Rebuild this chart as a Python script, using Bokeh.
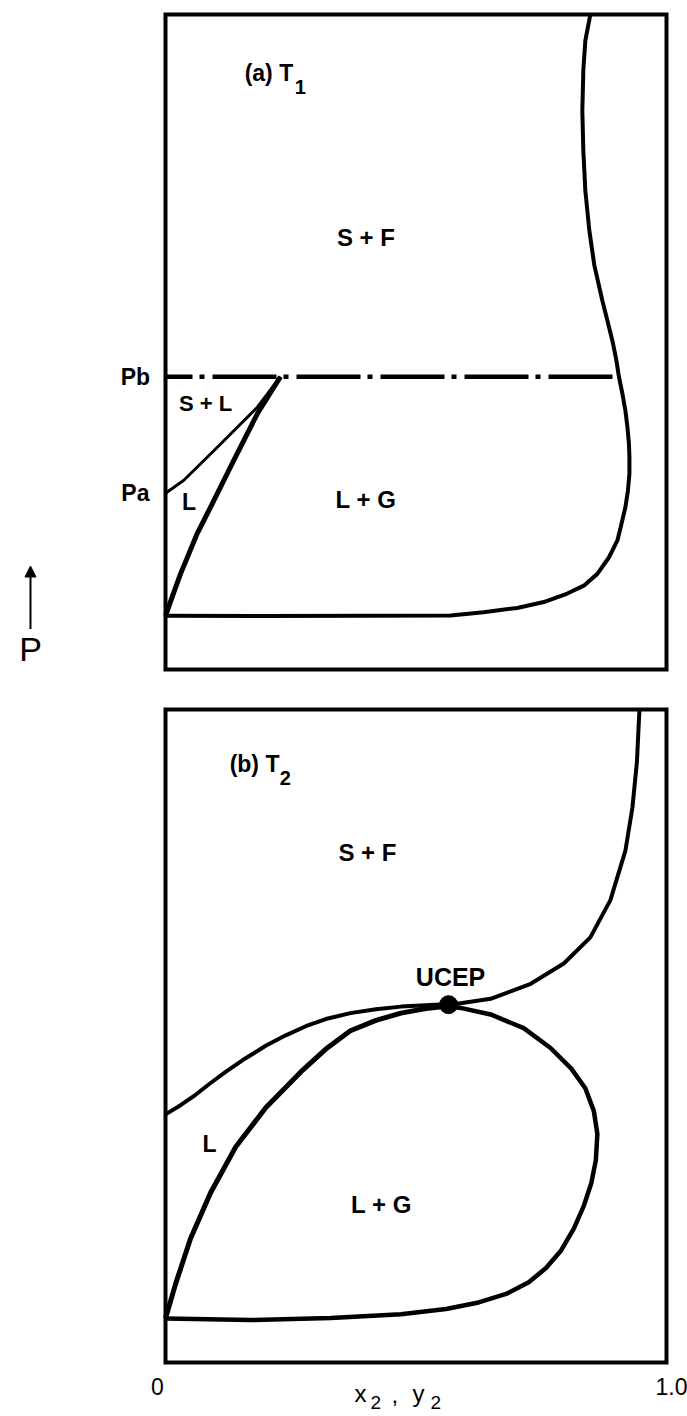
from bokeh.plotting import figure
from bokeh.layouts import column
from bokeh.models import Label, Arrow, NormalHead, Range1d
from bokeh.embed import file_html
from bokeh.resources import INLINE

FONT = "Liberation Sans"
INK = "black"

# composition axis and pressure scale of each diagram box
X_LO, X_HI = 0.0, 1.0
P_LO, P_HI = 0.0, 100.0

# ---------------- panel (a): isotherm T1 ----------------
# fluid-phase boundary, from the top of the box down to x2 = 0
a_fluid_x = [0.848, 0.838, 0.834, 0.832, 0.834, 0.838, 0.846, 0.856, 0.872, 0.882,
             0.892, 0.900, 0.905, 0.912, 0.918, 0.922, 0.925, 0.926, 0.926, 0.923,
             0.918, 0.910, 0.902, 0.885, 0.862, 0.835, 0.802, 0.755, 0.702, 0.635,
             0.569, 0.400, 0.200, 0.0]
a_fluid_p = [100, 96.0, 91.5, 85.3, 79.2, 73.1, 67.0, 61.7, 56.3, 53.3,
             50.2, 47.2, 44.7, 42.1, 39.5, 37.0, 34.5, 32.4, 29.9, 27.3,
             24.8, 22.2, 19.7, 17.1, 14.6, 12.8, 11.6, 10.3, 9.4, 8.75,
             8.24, 8.2, 8.15, 8.2]
# liquid boundary of the L + G region
a_liq_x = [0.0, 0.013, 0.030, 0.063, 0.090, 0.136, 0.183, 0.2295]
a_liq_p = [8.2, 11.0, 14.6, 20.7, 24.8, 31.9, 39.0, 44.7]
# solid-liquid boundary leaving the axis at Pa
a_sl_x = [0.0, 0.0366, 0.103, 0.183, 0.2295]
a_sl_p = [26.9, 28.9, 33.9, 40.0, 44.7]
# three-phase pressure Pb
a_pb_x = [0.0, 0.905]
a_pb_p = [44.7, 44.7]
a_pa = 26.9
a_pb = 44.7

# ---------------- panel (b): isotherm T2 ----------------
b_upper_x = [0.0, 0.03, 0.06, 0.09, 0.12, 0.16, 0.20, 0.24, 0.28, 0.32,
             0.369, 0.42, 0.47, 0.52, 0.565, 0.589, 0.649, 0.729, 0.795, 0.848,
             0.888, 0.918, 0.932, 0.941, 0.946]
b_upper_p = [38, 39.4, 41, 42.8, 44.5, 46.6, 48.5, 50.1, 51.5, 52.6,
             53.5, 54.1, 54.5, 54.7, 54.9, 55.0, 55.7, 58.0, 61.1, 65.1,
             70.8, 78.4, 85, 92, 100]
b_liq_x = [0.0, 0.02, 0.05, 0.09, 0.14, 0.20, 0.27, 0.32, 0.369, 0.42, 0.47, 0.52, 0.565]
b_liq_p = [6.74, 12, 19, 26, 33, 39, 44.5, 48.0, 50.8, 52.4, 53.5, 54.2, 54.6]
b_loop_x = [0.565, 0.589, 0.649, 0.715, 0.768, 0.81, 0.838, 0.855, 0.862, 0.859,
            0.850, 0.835, 0.815, 0.790, 0.760, 0.725, 0.680, 0.625, 0.560, 0.470,
            0.330, 0.170, 0.0]
b_loop_p = [54.6, 54.3, 53.3, 51.2, 48.2, 45, 42, 38.5, 35, 31,
            27.5, 24, 20.5, 17.2, 14.5, 12.3, 10.5, 9.2, 8.2, 7.4,
            6.8, 6.5, 6.74]
ucep_x = [0.565]
ucep_p = [54.8]

tick_x = [0.0, 1.0]
tick_text = ["0", "1.0"]


def make_panel(height, x_range, y_range):
    p = figure(width=687, height=height, x_range=x_range, y_range=y_range,
               min_border_left=0, min_border_right=0,
               min_border_top=0, min_border_bottom=0,
               x_axis_location=None, y_axis_location=None,
               output_backend="svg", toolbar_location=None)
    p.grid.visible = False
    p.outline_line_color = None
    p.background_fill_color = "white"
    p.border_fill_color = "white"
    # the diagram box
    p.quad(left=[X_LO], right=[X_HI], bottom=[P_LO], top=[P_HI],
           fill_color=None, line_color=INK, line_width=4, line_join="miter")
    return p


def label(p, x, y, text, size, align="center", baseline="middle", xoff=0, weight="bold"):
    p.add_layout(Label(x=x, y=y, text=text, x_offset=xoff,
                       text_font=FONT, text_font_size=f"{size}px",
                       text_font_style=weight, text_color=INK,
                       text_align=align, text_baseline=baseline))


# ---- panel (a): canvas 687 x 690, box from x=165..666 px, y=14..669 px
pa = make_panel(690, Range1d(-165 / 501, 522 / 501), Range1d(-21 / 6.55, 100 + 14 / 6.55))
pa.line(a_fluid_x, a_fluid_p, line_color=INK, line_width=4, line_join="round")
pa.line(a_liq_x, a_liq_p, line_color=INK, line_width=5, line_join="round")
pa.line(a_sl_x, a_sl_p, line_color=INK, line_width=3, line_join="round")
pa.line(a_pb_x, a_pb_p, line_color=INK, line_width=4.5,
        line_dash="64 7 5 8", line_dash_offset=37)

label(pa, 0.158, 91.1, "(a) T", 23, align="left")
label(pa, 0.158, 88.9, "1", 20, align="left", xoff=50)
label(pa, 0.40, 66, "S + F", 24)
label(pa, 0.080, 40.6, "S + L", 22)
label(pa, 0.047, 25.5, "L", 23)
label(pa, 0.40, 26, "L + G", 24)
label(pa, -0.06, a_pb, "Pb", 23)
label(pa, -0.06, a_pa, "Pa", 23)

# pressure direction arrow
pa.add_layout(Arrow(end=NormalHead(size=11, fill_color=INK, line_color=INK),
                    x_start=-0.2695, y_start=6.2, x_end=-0.2695, y_end=15.8,
                    line_color=INK, line_width=2))
label(pa, -0.2695, 3.2, "P", 34, weight="normal")

# ---- panel (b): canvas 687 x 726, box from x=165..666 px, y=19..672 px
pb = make_panel(726, Range1d(-165 / 501, 522 / 501), Range1d(-54 / 6.53, 100 + 19 / 6.53))
pb.line(b_upper_x, b_upper_p, line_color=INK, line_width=4, line_join="round")
pb.line(b_liq_x, b_liq_p, line_color=INK, line_width=5, line_join="round")
pb.line(b_loop_x, b_loop_p, line_color=INK, line_width=4.5, line_join="round")
pb.scatter(ucep_x, ucep_p, size=18, color=INK)

label(pb, 0.128, 91.7, "(b) T", 23, align="left")
label(pb, 0.128, 89.5, "2", 20, align="left", xoff=50)
label(pb, 0.403, 78.1, "S + F", 24)
label(pb, 0.569, 59.1, "UCEP", 25)
label(pb, 0.088, 33.4, "L", 23)
label(pb, 0.431, 24.2, "L + G", 24)

# composition ticks
label(pb, tick_x[0] - 0.016, -3.6, tick_text[0], 23, weight="normal")
label(pb, tick_x[1] + 0.01, -3.6, tick_text[1], 23, weight="normal")

# x2 , y2 axis title, with subscripts
label(pb, 0.377, -4.7, "x", 24, align="left", baseline="alphabetic", weight="normal")
label(pb, 0.409, -6.1, "2", 19, align="left", baseline="alphabetic", weight="normal")
label(pb, 0.451, -4.9, ",", 24, align="left", baseline="alphabetic", weight="normal")
label(pb, 0.493, -4.7, "y", 24, align="left", baseline="alphabetic", weight="normal")
label(pb, 0.529, -6.1, "2", 19, align="left", baseline="alphabetic", weight="normal")

layout = column(pa, pb, spacing=0)
open("out.html", "w").write(file_html(layout, INLINE))
